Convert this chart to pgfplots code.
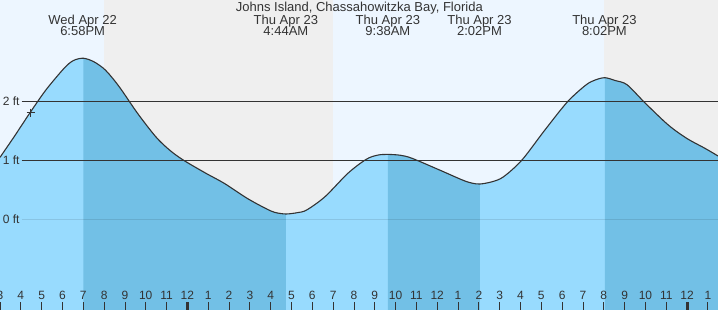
\documentclass[border=0pt]{standalone}
\usepackage{pgfplots}
\usepackage{pgfplotstable}
\pgfplotsset{compat=1.18}
\usepgfplotslibrary{fillbetween}
\usepackage{fontspec}
\setmainfont{Liberation Sans}
\definecolor{day}{RGB}{237,246,255}
\definecolor{night}{RGB}{239,239,239}
\definecolor{rise}{RGB}{152,219,254}
\definecolor{fall}{RGB}{114,192,230}
\definecolor{txt}{RGB}{51,51,51}

\pgfplotstableread{
t h
15.00 1.05
15.66 1.39
16.43 1.80
17.20 2.19
18.08 2.56
18.52 2.69
19.00 2.73
19.51 2.67
20.06 2.53
20.72 2.25
21.60 1.80
22.48 1.40
23.14 1.175
23.80 1.005
24.89 0.78
25.77 0.61
26.87 0.356
27.75 0.186
28.19 0.118
28.73 0.09
29.29 0.113
29.73 0.158
30.61 0.383
31.71 0.78
32.59 1.017
33.14 1.088
33.63 1.10
34.24 1.085
34.79 1.034
36.11 0.836
37.21 0.666
37.65 0.615
38.05 0.598
38.64 0.637
39.19 0.722
40.07 1.005
41.17 1.513
42.26 1.993
43.14 2.276
43.58 2.36
44.05 2.40
44.57 2.35
45.12 2.28
46.00 1.966
47.10 1.598
47.98 1.373
48.86 1.203
49.49 1.073
}\tidedata

\tikzset{lbl/.style={anchor=base, inner sep=0pt, font=\fontsize{13}{15}\selectfont, text=txt},
         ylbl/.style={anchor=west, inner sep=0pt, font=\fontsize{12}{14}\selectfont, text=txt}}

\begin{document}
\begin{tikzpicture}
\begin{axis}[
  set layers,
  scale only axis, width=718pt, height=310pt,
  xmin=15, xmax=49.486, ymin=-1.537, ymax=3.717,
  axis on top,
  axis line style={draw=none},
  axis background/.style={fill=day},
  xtick={15,...,49},
  xticklabels={3,4,5,6,7,8,9,10,11,12,1,2,3,4,5,6,7,8,9,10,11,12,1,2,3,4,5,6,7,8,9,10,11,12,1},
  xtick pos=bottom,
  tick align=inside,
  major tick length=7.5pt,
  tick style={draw=txt, line width=0.8pt},
  xticklabel style={anchor=base, yshift=10pt, font=\fontsize{12}{14}\selectfont, text=txt},
  ytick=\empty,
  extra x ticks={24,48},
  extra x tick labels={},
  extra x tick style={tick style={draw=txt, line width=3pt}},
  /pgf/number format/assume math mode=true,
]
% night sky
\addplot[on layer=axis background, draw=none, fill=night] coordinates {(20,-1.6) (20,3.8) (31,3.8) (31,-1.6)} -- cycle;
\addplot[on layer=axis background, draw=none, fill=night] coordinates {(44,-1.6) (44,3.8) (49.6,3.8) (49.6,-1.6)} -- cycle;
% dark grid lines
\addplot[on layer=axis grid, draw=txt, line width=0.8pt] coordinates {(16.04,2) (49.6,2)};
\addplot[on layer=axis grid, draw=txt, line width=0.8pt] coordinates {(16.04,1) (49.6,1)};
% water
\addplot[draw=none, smooth, name path=tide] table[x=t, y=h] {\tidedata};
\addplot[draw=none, name path=bottom] coordinates {(15,-1.6) (49.49,-1.6)};
\addplot[fill=rise] fill between[of=tide and bottom];
\addplot[fill=fall] fill between[of=tide and bottom, soft clip={domain=19.00:28.73}];
\addplot[fill=fall] fill between[of=tide and bottom, soft clip={domain=33.63:38.05}];
\addplot[fill=fall] fill between[of=tide and bottom, soft clip={domain=44.05:49.6}];
% faint lines under water
\addplot[draw=black, opacity=0.1, line width=0.8pt] coordinates {(16.04,0) (49.6,0)};
\addplot[draw=black, opacity=0.1, line width=0.8pt] coordinates {(16.04,1) (49.6,1)};
\addplot[draw=black, opacity=0.1, line width=0.8pt] coordinates {(16.04,2) (49.6,2)};
% tide curve
\addplot[draw=txt, line width=1.1pt, smooth] table[x=t, y=h] {\tidedata};
% current time marker
\addplot[only marks, mark=+, mark size=4pt, mark options={draw=txt, line width=1pt}] coordinates {(16.47,1.807)};
% y labels
\node[ylbl] at (axis cs:15.13,2) {2 ft};
\node[ylbl] at (axis cs:15.13,1) {1 ft};
\node[ylbl] at (axis cs:15.13,0) {0 ft};
% title
\node[lbl] at (axis cs:32.26,3.519) {Johns Island, Chassahowitzka Bay, Florida};
% event labels
\node[lbl] at (axis cs:18.97,3.31) {Wed Apr 22};
\node[lbl] at (axis cs:18.97,3.107) {6:58PM};
\node[lbl] at (axis cs:28.73,3.31) {Thu Apr 23};
\node[lbl] at (axis cs:28.73,3.107) {4:44AM};
\node[lbl] at (axis cs:33.63,3.31) {Thu Apr 23};
\node[lbl] at (axis cs:33.63,3.107) {9:38AM};
\node[lbl] at (axis cs:38.03,3.31) {Thu Apr 23};
\node[lbl] at (axis cs:38.03,3.107) {2:02PM};
\node[lbl] at (axis cs:44.03,3.31) {Thu Apr 23};
\node[lbl] at (axis cs:44.03,3.107) {8:02PM};
\end{axis}
\pgfresetboundingbox
\useasboundingbox (current axis.south west) rectangle (current axis.north east);
\end{tikzpicture}
\end{document}
